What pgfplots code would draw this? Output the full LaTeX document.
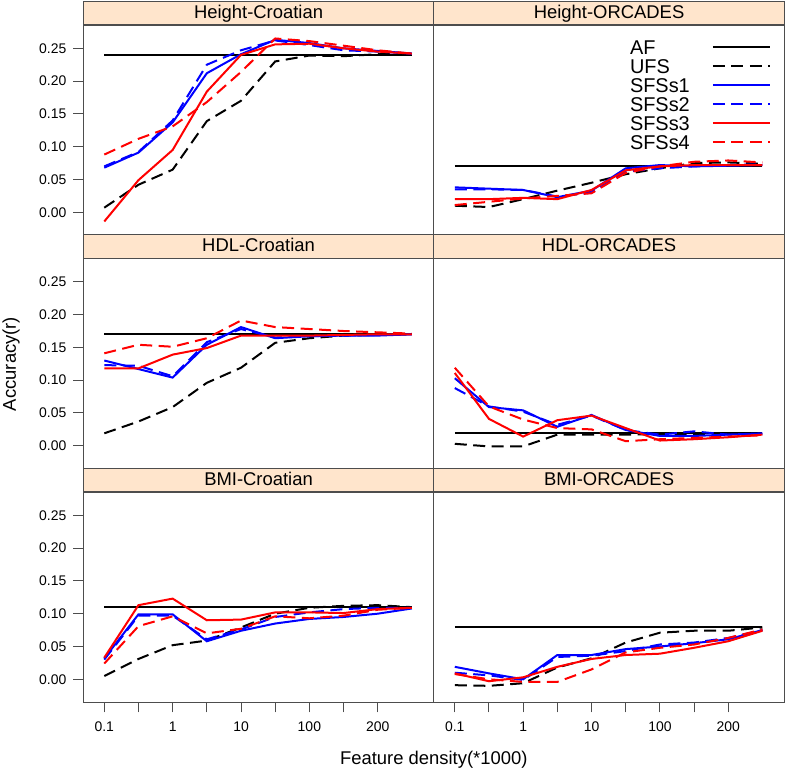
\documentclass[border=0pt]{standalone}
\usepackage{fontspec}
\setmainfont{Liberation Sans}
\usepackage{pgfplots}
\usepackage{pgfplotstable}
\pgfplotsset{compat=1.18}
\definecolor{stripbg}{HTML}{FFE5CC}
\definecolor{frame}{HTML}{4D4D4D}

% accuracy per feature density step, one table per panel
\pgfplotstableread{
x  AF   UFS    S1    S2    S3     S4
1  0.24 0.007  0.068 0.070 -0.014 0.088
2  0.24 0.042  0.091 0.092 0.049  0.112
3  0.24 0.065  0.137 0.140 0.095  0.131
4  0.24 0.139  0.212 0.225 0.184  0.168
5  0.24 0.170  0.241 0.247 0.240  0.214
6  0.24 0.230  0.263 0.262 0.256  0.265
7  0.24 0.239  0.258 0.255 0.257  0.261
8  0.24 0.238  0.250 0.247 0.250  0.254
9  0.24 0.241  0.246 0.245 0.245  0.247
10 0.24 0.241  0.242 0.242 0.242  0.242
}\htcro
\pgfplotstableread{
x  AF   UFS    S1    S2    S3    S4
1  0.07 0.010  0.038 0.035 0.020 0.011
2  0.07 0.008  0.036 0.035 0.020 0.016
3  0.07 0.020  0.034 0.034 0.022 0.021
4  0.07 0.033  0.023 0.024 0.020 0.025
5  0.07 0.045  0.033 0.030 0.034 0.029
6  0.07 0.058  0.067 0.062 0.064 0.060
7  0.07 0.067  0.072 0.067 0.070 0.070
8  0.07 0.075  0.070 0.070 0.072 0.077
9  0.07 0.076  0.071 0.072 0.072 0.079
10 0.07 0.074  0.072 0.073 0.072 0.076
}\htorc
\pgfplotstableread{
x  AF   UFS    S1    S2    S3    S4
1  0.17 0.019  0.130 0.123 0.118 0.141
2  0.17 0.037  0.117 0.122 0.118 0.154
3  0.17 0.059  0.104 0.106 0.139 0.151
4  0.17 0.096  0.154 0.158 0.149 0.164
5  0.17 0.119  0.181 0.178 0.168 0.191
6  0.17 0.157  0.164 0.165 0.168 0.181
7  0.17 0.164  0.167 0.167 0.168 0.178
8  0.17 0.168  0.168 0.168 0.169 0.175
9  0.17 0.169  0.168 0.169 0.170 0.173
10 0.17 0.170  0.170 0.170 0.170 0.171
}\hdlcro
\pgfplotstableread{
x  AF   UFS    S1    S2    S3    S4
1  0.02 0.003  0.103 0.088 0.111 0.119
2  0.02 -0.001 0.059 0.060 0.041 0.060
3  0.02 -0.001 0.054 0.052 0.014 0.040
4  0.02 0.017  0.029 0.032 0.039 0.027
5  0.02 0.017  0.047 0.046 0.046 0.025
6  0.02 0.017  0.024 0.024 0.027 0.007
7  0.02 0.018  0.015 0.017 0.008 0.010
8  0.02 0.017  0.015 0.022 0.010 0.012
9  0.02 0.018  0.017 0.017 0.013 0.014
10 0.02 0.019  0.019 0.018 0.017 0.016
}\hdlorc
\pgfplotstableread{
x  AF   UFS    S1    S2    S3    S4
1  0.11 0.005  0.032 0.030 0.033 0.024
2  0.11 0.031  0.099 0.097 0.113 0.081
3  0.11 0.052  0.099 0.097 0.123 0.096
4  0.11 0.059  0.058 0.061 0.090 0.070
5  0.11 0.079  0.074 0.076 0.091 0.077
6  0.11 0.100  0.085 0.095 0.102 0.096
7  0.11 0.109  0.092 0.102 0.102 0.093
8  0.11 0.112  0.095 0.107 0.101 0.097
9  0.11 0.113  0.100 0.109 0.107 0.106
10 0.11 0.110  0.108 0.109 0.109 0.109
}\bmicro
\pgfplotstableread{
x  AF   UFS    S1    S2     S3     S4
1  0.08 -0.009 0.019 0.010  0.009  0.008
2  0.08 -0.010 0.009 0.006  -0.003 0.000
3  0.08 -0.006 0.000 -0.001 0.003  -0.004
4  0.08 0.018  0.037 0.034  0.019  -0.004
5  0.08 0.032  0.037 0.036  0.031  0.015
6  0.08 0.056  0.046 0.043  0.037  0.041
7  0.08 0.071  0.050 0.053  0.039  0.048
8  0.08 0.074  0.055 0.056  0.048  0.053
9  0.08 0.074  0.061 0.063  0.058  0.063
10 0.08 0.079  0.075 0.075  0.074  0.076
}\bmiorc

\pgfplotsset{
  af/.style={black, line width=2bp},
  ufs/.style={black, line width=2bp, dash pattern=on 12bp off 6.5bp},
  sa/.style={blue, line width=2bp},
  sb/.style={blue, line width=2bp, dash pattern=on 12bp off 6.5bp},
  sc/.style={red, line width=2bp},
  sd/.style={red, line width=2bp, dash pattern=on 12bp off 6.5bp},
  panel/.style={
    scale only axis, width=350.5bp, height=210bp,
    xmin=0.386, xmax=10.64, ymin=-0.0354, ymax=0.2848,
    axis line style={frame, line width=1bp},
    xtick=\empty, ytick=\empty,
    tick align=outside, major tick length=10bp,
    tick style={frame, line width=1bp},
    tick pos=left,
    no markers,
    /pgf/number format/assume math mode=true,
    ticklabel style={font=\fontsize{14}{16}\selectfont},
    every axis title shift=0pt,
    title style={at={(0.5,1)}, anchor=south,
      fill=stripbg, draw=frame, line width=1bp,
      minimum width=350.5bp, minimum height=23.5bp, inner sep=0pt,
      text height=13.4bp, text depth=3.8bp,
      font=\fontsize{18.5}{20}\selectfont},
  },
  lcol/.style={ytick={0,0.05,0.1,0.15,0.2,0.25},
    yticklabel style={xshift=-3.5bp, /pgf/number format/fixed,
      /pgf/number format/fixed zerofill, /pgf/number format/precision=2}},
  brow/.style={xtick={1,2,3,4,5,6,7,8,9},
    xticklabels={0.1,,1,,10,,100,,200},
    xticklabel style={yshift=-5.5bp}},
}
\newcommand{\sixlines}[1]{%
  \addplot[af] table[x=x,y=AF]{#1};
  \addplot[ufs] table[x=x,y=UFS]{#1};
  \addplot[sa] table[x=x,y=S1]{#1};
  \addplot[sb] table[x=x,y=S2]{#1};
  \addplot[sc] table[x=x,y=S3]{#1};
  \addplot[sd] table[x=x,y=S4]{#1};}

\begin{document}
\begin{tikzpicture}
\useasboundingbox (0,0) rectangle (787bp,772bp);

\begin{axis}[panel, lcol, at={(83.3bp,536.5bp)}, anchor=south west, title={Height-Croatian}]
\sixlines{\htcro}
\end{axis}
\begin{axis}[panel, at={(433.8bp,536.5bp)}, anchor=south west, title={Height-ORCADES},
  legend plot pos=right, legend cell align=left,
  legend image code/.code={\draw[#1] (0bp,0bp) -- (57bp,0bp);},
  legend style={at={(1,1)}, anchor=north east, xshift=-13.3bp, yshift=-13.8bp,
    draw=none, fill=none, inner sep=0pt, row sep=4.3bp, column sep=22bp,
    font=\fontsize{20}{20}\selectfont,
    nodes={inner sep=0pt, text height=14.7bp, text depth=0pt}}]
\sixlines{\htorc}
\legend{AF,UFS,SFSs1,SFSs2,SFSs3,SFSs4}
\end{axis}

\begin{axis}[panel, lcol, at={(83.3bp,303bp)}, anchor=south west, title={HDL-Croatian}]
\sixlines{\hdlcro}
\end{axis}
\begin{axis}[panel, at={(433.8bp,303bp)}, anchor=south west, title={HDL-ORCADES}]
\sixlines{\hdlorc}
\end{axis}

\begin{axis}[panel, lcol, brow, at={(83.3bp,69.5bp)}, anchor=south west, title={BMI-Croatian}]
\sixlines{\bmicro}
\end{axis}
\begin{axis}[panel, brow, at={(433.8bp,69.5bp)}, anchor=south west, title={BMI-ORCADES}]
\sixlines{\bmiorc}
\end{axis}

\node[rotate=90, font=\fontsize{18.5}{20}\selectfont] at (11bp,408bp) {Accuracy(r)};
\node[font=\fontsize{18.5}{20}\selectfont] at (433.8bp,12bp) {Feature density(*1000)};
\end{tikzpicture}
\end{document}
